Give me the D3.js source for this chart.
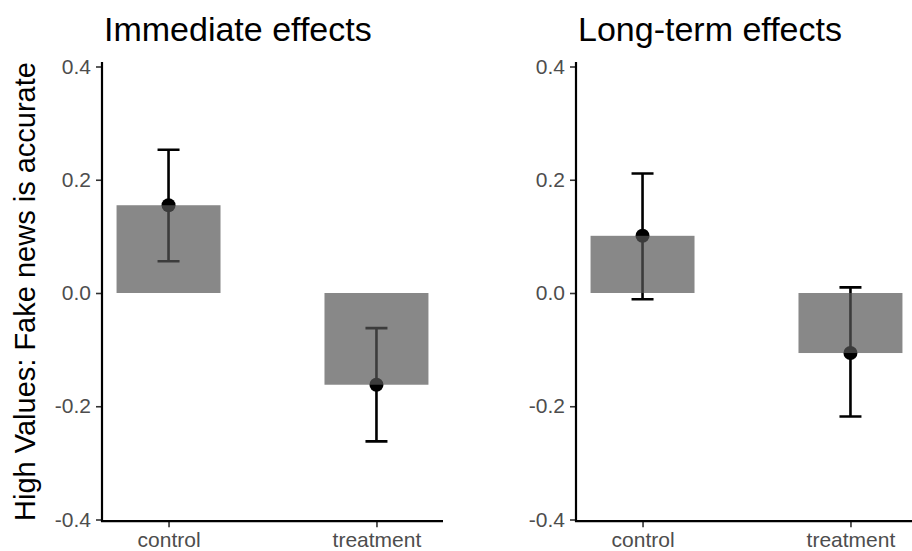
<!DOCTYPE html>
<html><head><meta charset="utf-8">
<script src="https://cdn.jsdelivr.net/npm/d3@7"></script>
<style>body{margin:0;background:#fff}svg{display:block}text{font-family:"Liberation Sans",Arial,sans-serif}</style>
</head><body><svg id="c" width="912" height="551"></svg>
<script>
const categories = ["control", "treatment"];
const panelTitles = ["Immediate effects", "Long-term effects"];
const immediateMean = [0.155, -0.162];
const immediateLow = [0.056, -0.262];
const immediateHigh = [0.253, -0.062];
const longtermMean = [0.101, -0.106];
const longtermLow = [-0.011, -0.218];
const longtermHigh = [0.211, 0.010];
const yTicks = [-0.4, -0.2, 0.0, 0.2, 0.4];
const yLabel = "High Values: Fake news is accurate";

const panels = [
  {title: panelTitles[0], mean: immediateMean, lo: immediateLow, hi: immediateHigh, x0: 102},
  {title: panelTitles[1], mean: longtermMean, lo: longtermLow, hi: longtermHigh, x0: 576}
];
const svg = d3.select("#c");
const y = d3.scaleLinear().domain([-0.4, 0.4]).range([519.5, 66.5]);
const pw = 341;
const ff = '"Liberation Sans",Arial,sans-serif';

panels.forEach(p => {
  const x = d3.scalePoint().domain(categories).range([p.x0, p.x0 + pw]).padding(0.32);
  const bw = x.step() * 0.5;
  const g = svg.append("g");
  const rows = categories.map((c, i) => ({c, m: p.mean[i], lo: p.lo[i], hi: p.hi[i]}));
  g.selectAll(".eb").data(rows).join("path")
    .attr("d", d => `M${x(d.c)-11},${y(d.hi)}H${x(d.c)+11}M${x(d.c)},${y(d.hi)}V${y(d.lo)}M${x(d.c)-11},${y(d.lo)}H${x(d.c)+11}`)
    .attr("stroke", "#000").attr("stroke-width", 2.6).attr("fill", "none");
  g.selectAll(".pt").data(rows).join("circle")
    .attr("cx", d => x(d.c)).attr("cy", d => y(d.m)).attr("r", 7).attr("fill", "#000");
  g.selectAll(".bar").data(rows).join("rect")
    .attr("x", d => x(d.c) - bw/2).attr("width", bw)
    .attr("y", d => y(Math.max(0, d.m))).attr("height", d => Math.abs(y(d.m) - y(0)))
    .attr("fill", "#555555").attr("fill-opacity", 0.7);
  const ya = g.append("g").attr("transform", `translate(${p.x0},0)`)
    .call(d3.axisLeft(y).tickValues(yTicks).tickFormat(d => d.toFixed(1)).tickSize(6).tickPadding(5));
  ya.select(".domain").remove();
  ya.selectAll(".tick line").attr("stroke", "#333").attr("stroke-width", 1.6);
  ya.selectAll(".tick text").attr("fill", "#4d4d4d").attr("font-size", 21).attr("font-family", ff);
  const xa = g.append("g").attr("transform", `translate(0,${y(-0.403)})`)
    .call(d3.axisBottom(x).tickSize(6).tickPadding(5));
  xa.select(".domain").remove();
  xa.selectAll(".tick line").attr("stroke", "#333").attr("stroke-width", 1.6);
  xa.selectAll(".tick text").attr("fill", "#4d4d4d").attr("font-size", 21).attr("font-family", ff);
  g.append("path").attr("d", `M${p.x0},${y(0.408)}V${y(-0.403)}H${p.x0 + pw}`)
    .attr("stroke", "#000").attr("stroke-width", 2.2).attr("fill", "none");
  g.append("text").attr("x", p.x0 + 2).attr("y", 41).attr("font-size", 34).attr("fill", "#000").text(p.title);
});

svg.append("text").attr("transform", `translate(35,${(62+521)/2}) rotate(-90)`)
  .attr("text-anchor", "middle").attr("font-size", 29).attr("fill", "#000").text(yLabel);
</script></body></html>
